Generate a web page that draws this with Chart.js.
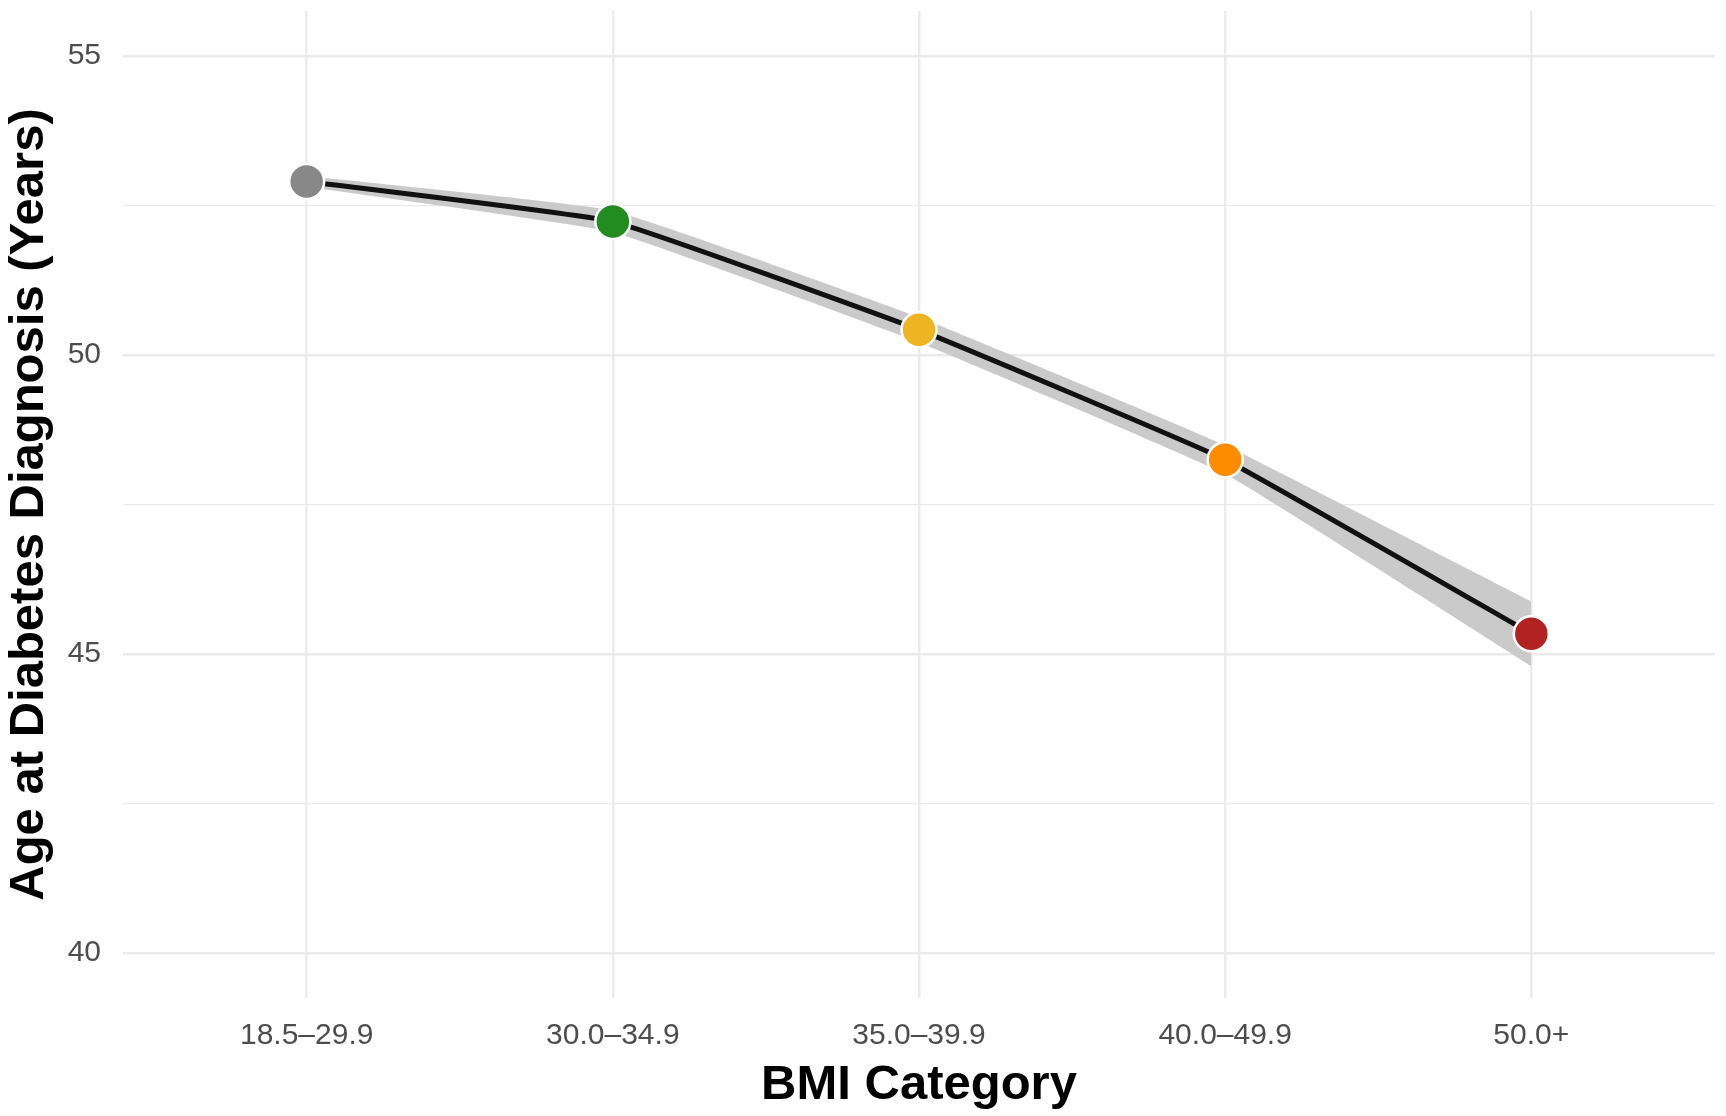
<!DOCTYPE html>
<html>
<head>
<meta charset="utf-8">
<script src="https://cdn.jsdelivr.net/npm/chart.js@4.4.1/dist/chart.umd.min.js"></script>
<style>
  html, body { margin: 0; padding: 0; background: #fff; }
  #wrap { width: 1726px; height: 1116px; position: relative; }
</style>
</head>
<body>
<div id="wrap"><canvas id="chart"></canvas></div>
<script>
// BMI categories on the x axis
var categories = ["18.5\u201329.9", "30.0\u201334.9", "35.0\u201339.9", "40.0\u201349.9", "50.0+"];
// mean age at diagnosis
var meanAge = [52.90, 52.23, 50.42, 48.25, 45.34];
// confidence band around the line
var ciLower = [52.81, 52.05, 50.21, 48.01, 44.80];
var ciUpper = [52.99, 52.41, 50.63, 48.49, 45.88];
var pointColors = ["#888888", "#228B22", "#EEB422", "#FF8C00", "#B22222"];
var yTicks = [40, 42.5, 45, 47.5, 50, 52.5, 55];
var yLabelled = [40, 45, 50, 55];

var fontFamily = "'Liberation Sans', Arial, Helvetica, sans-serif";

function toXY(arr) {
  return arr.map(function(v, i) { return { x: i, y: v }; });
}

// drop the extra room chart.js keeps for the tick labels
function noPad(scale) {
  scale.paddingTop = 0;
  scale.paddingBottom = 0;
  scale.paddingLeft = 0;
  scale.paddingRight = 0;
}

var ctx = document.getElementById("chart");
var chart = new Chart(ctx, {
  type: "line",
  data: {
    datasets: [
      {
        label: "mean",
        data: toXY(meanAge),
        borderColor: "#111111",
        borderWidth: 5,
        tension: 0.1,
        fill: false,
        pointRadius: 17.5,
        pointHoverRadius: 17.5,
        pointBackgroundColor: pointColors,
        pointBorderColor: "#ffffff",
        pointBorderWidth: 2.5
      },
      {
        label: "upper",
        data: toXY(ciUpper),
        borderWidth: 0,
        borderColor: "rgba(0,0,0,0)",
        tension: 0.1,
        pointRadius: 0,
        fill: false
      },
      {
        label: "lower",
        data: toXY(ciLower),
        borderWidth: 0,
        borderColor: "rgba(0,0,0,0)",
        tension: 0.1,
        pointRadius: 0,
        backgroundColor: "#CACACA",
        fill: "-1"
      }
    ]
  },
  options: {
    responsive: true,
    maintainAspectRatio: false,
    animation: false,
    layout: { autoPadding: false, padding: { top: 11, right: 11, left: 0, bottom: 0 } },
    plugins: {
      legend: { display: false },
      tooltip: { enabled: false }
    },
    scales: {
      x: {
        type: "linear",
        min: -0.6,
        max: 4.6,
        afterBuildTicks: function(scale) {
          scale.ticks = categories.map(function(c, i) { return { value: i }; });
        },
        afterFit: function(scale) { scale.height = 118; noPad(scale); },
        ticks: {
          autoSkip: false,
          maxRotation: 0,
          padding: 20,
          color: "#4D4D4D",
          font: { family: fontFamily, size: 30 },
          callback: function(v) { return categories[v]; }
        },
        grid: { color: "#EBEBEB", lineWidth: 2.5, drawTicks: false },
        border: { display: false },
        title: {
          display: true,
          text: "BMI Category",
          color: "#000000",
          font: { family: fontFamily, size: 49, weight: "bold" },
          padding: { top: 0, bottom: 1 }
        }
      },
      y: {
        min: 39.25,
        max: 55.75,
        afterBuildTicks: function(scale) {
          scale.ticks = yTicks.map(function(v) { return { value: v }; });
        },
        afterFit: function(scale) { scale.width = 123; noPad(scale); },
        ticks: {
          padding: 22,
          color: "#4D4D4D",
          font: { family: fontFamily, size: 30 },
          callback: function(v) { return yLabelled.indexOf(v) >= 0 ? String(v) : ""; }
        },
        grid: {
          color: "#EBEBEB",
          drawTicks: false,
          lineWidth: function(c) {
            return c.tick && yLabelled.indexOf(c.tick.value) >= 0 ? 2.5 : 1.3;
          }
        },
        border: { display: false },
        title: {
          display: true,
          text: "Age at Diabetes Diagnosis (Years)",
          color: "#000000",
          font: { family: fontFamily, size: 49, weight: "bold" },
          padding: { top: 0, bottom: 0 }
        }
      }
    }
  }
});
</script>
</body>
</html>
